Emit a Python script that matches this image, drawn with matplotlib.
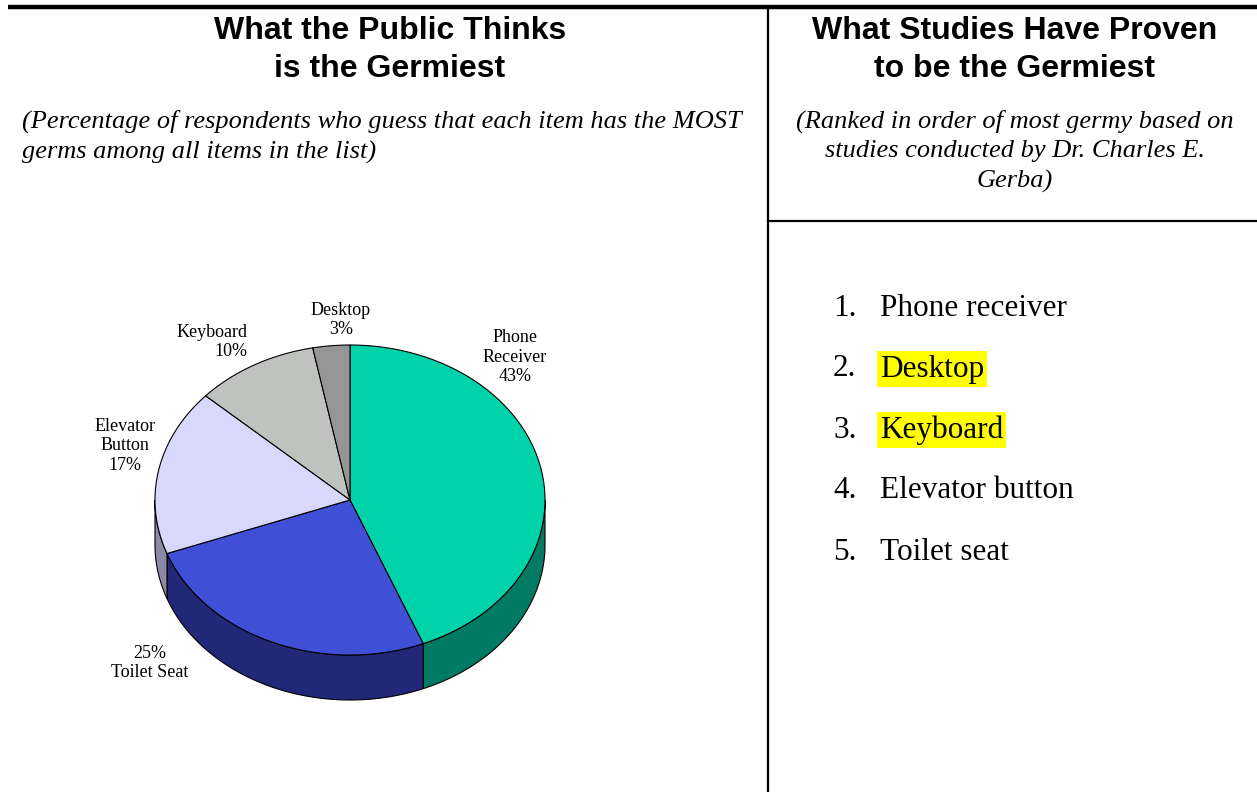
import numpy as np
import matplotlib
matplotlib.use("Agg")
import matplotlib.pyplot as plt
import matplotlib.patches as patches

# data
labels=["Phone\nReceiver","Toilet Seat","Elevator\nButton","Keyboard","Desktop"]
values=[43,25,17,10,3]
top_colors=["#00D2AA","#4050D6","#D8D8FC","#C0C2C0","#969696"]
side_colors=["#007A62","#222878","#8A8AA6","#808080","#606060"]
ranking=["Phone receiver","Desktop","Keyboard","Elevator button","Toilet seat"]
highlighted=["Desktop","Keyboard"]

W,H=1257,792
fig=plt.figure(figsize=(W/100,H/100),dpi=100)
ax=fig.add_axes([0,0,1,1])
ax.set_xlim(0,W)
ax.set_ylim(H,0)
ax.axis("off")

serif="Liberation Serif"
sans="Liberation Sans"

# frame lines
ax.plot([8,W],[6.5,6.5],color="black",lw=3.2,solid_capstyle="butt")
ax.plot([768,768],[6.5,H],color="black",lw=1.6)
ax.plot([768,W],[221,221],color="black",lw=1.6)

# titles
ax.text(390,50,"What the Public Thinks\nis the Germiest",ha="center",va="center",
        fontsize=23,fontweight="bold",family=sans,linespacing=1.32)
ax.text(1015,50,"What Studies Have Proven\nto be the Germiest",ha="center",va="center",
        fontsize=23,fontweight="bold",family=sans,linespacing=1.32)
ax.text(22,137,"(Percentage of respondents who guess that each item has the MOST\ngerms among all items in the list)",
        ha="left",va="center",fontsize=19,style="italic",family=serif,linespacing=1.45)
ax.text(1015,151,"(Ranked in order of most germy based on\nstudies conducted by Dr. Charles E.\nGerba)",
        ha="center",va="center",fontsize=19,style="italic",family=serif,linespacing=1.42)

# 3d pie
cx,cy,rx,ry,depth=350,500,195,155,45
frac=np.array(values,dtype=float)/sum(values)
bounds=np.concatenate([[0],np.cumsum(frac)])*360

def arc(a0,a1,n=120,dy=0):
    t=np.radians(np.linspace(a0,a1,n))
    return np.column_stack([cx+rx*np.sin(t),cy-ry*np.cos(t)+dy])

# side walls (front half only)
for i in range(len(values)):
    a0,a1=max(bounds[i],90),min(bounds[i+1],270)
    if a1<=a0: continue
    pts=np.vstack([arc(a0,a1),arc(a0,a1,dy=depth)[::-1]])
    ax.add_patch(patches.Polygon(pts,closed=True,fc=side_colors[i],ec="black",lw=0.8))

# top faces
for i in range(len(values)):
    pts=np.vstack([[cx,cy],arc(bounds[i],bounds[i+1])])
    ax.add_patch(patches.Polygon(pts,closed=True,fc=top_colors[i],ec="black",lw=0.8,joinstyle="round"))

# pie labels
label_pos=[(515,357,"center"),(150,663,"center"),(125,446,"center"),(212,342,"right"),(341,320,"center")]
for i,(lab,v) in enumerate(zip(labels,values)):
    x,y,al=label_pos[i]
    txt=f"{v}%\n{lab}" if lab=="Toilet Seat" else f"{lab}\n{v}%"
    ax.text(x,y,txt,ha="center",va="center",multialignment=al,fontsize=13,family=serif,linespacing=1.2)

# ranked list
for i,item in enumerate(ranking):
    y=308+61*i
    ax.text(833,y,f"{i+1}.",ha="left",va="center",fontsize=22.5,family=serif)
    box=dict(boxstyle="square,pad=0.1",fc="#FFFF00",ec="none") if item in highlighted else None
    ax.text(880,y,item,ha="left",va="center",fontsize=22.5,family=serif,bbox=box)

fig.savefig("out.png",dpi=100)
